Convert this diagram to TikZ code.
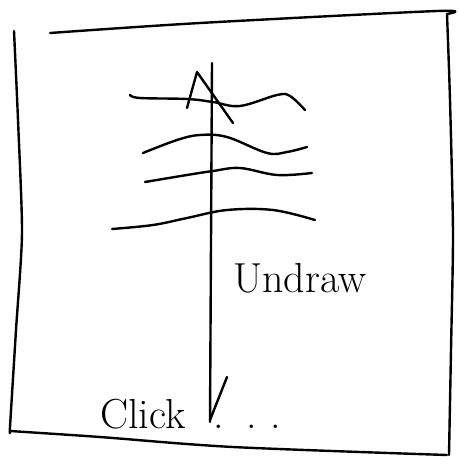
\documentclass[tikz,border=0pt]{standalone}
\begin{document}
\begin{tikzpicture}[x=1pt,y=-1pt,
  ink/.style={line width=2.4pt,line cap=round,line join=round,black},
  hand/.style={font=\fontsize{42}{44}\selectfont,inner sep=0pt}]
\useasboundingbox (0,0) rectangle (458,466);
% frame
\draw[ink] plot[smooth,tension=0.4] coordinates {(14,31) (18,120) (22,233) (16,330) (10,427) (10,431)};
\draw[ink] plot[smooth,tension=0.5] coordinates {(50,33) (200,23) (437,11) (447,14)};
\draw[ink] plot[smooth,tension=0.4] coordinates {(447,14) (450,100) (453,233) (451,350) (449,455)};
\draw[ink] plot[smooth,tension=0.5] coordinates {(10,431) (100,437) (233,447) (447,455)};
% arrow
\coordinate (top) at (212,63);
\coordinate (bot) at (210,422);
\draw[ink] (top) -- (bot);
\draw[ink] (187,108) -- (197,72) -- (233,123);
\draw[ink] (227,377) -- (210,420);
% waves
\draw[ink] plot[smooth,tension=0.6] coordinates {(130,95) (140,98) (187,99) (213,102) (240,106) (277,95) (290,96) (305,110)};
\draw[ink] plot[smooth,tension=0.6] coordinates {(143,153) (177,140) (200,135) (227,137) (267,153) (287,152) (307,147)};
\draw[ink] plot[smooth,tension=0.6] coordinates {(145,182) (187,175) (213,171) (240,168) (277,175) (312,173)};
\draw[ink] plot[smooth,tension=0.6] coordinates {(112,229) (153,225) (187,218) (227,210) (273,210) (315,220)};
% labels
\node[hand,anchor=base west] (click) at (100,428) {Click\hspace{28pt}.\hspace{22pt}.\hspace{14pt}.};
\node[hand,anchor=base west] (undraw) at (233,292) {Undraw};
\end{tikzpicture}
\end{document}
